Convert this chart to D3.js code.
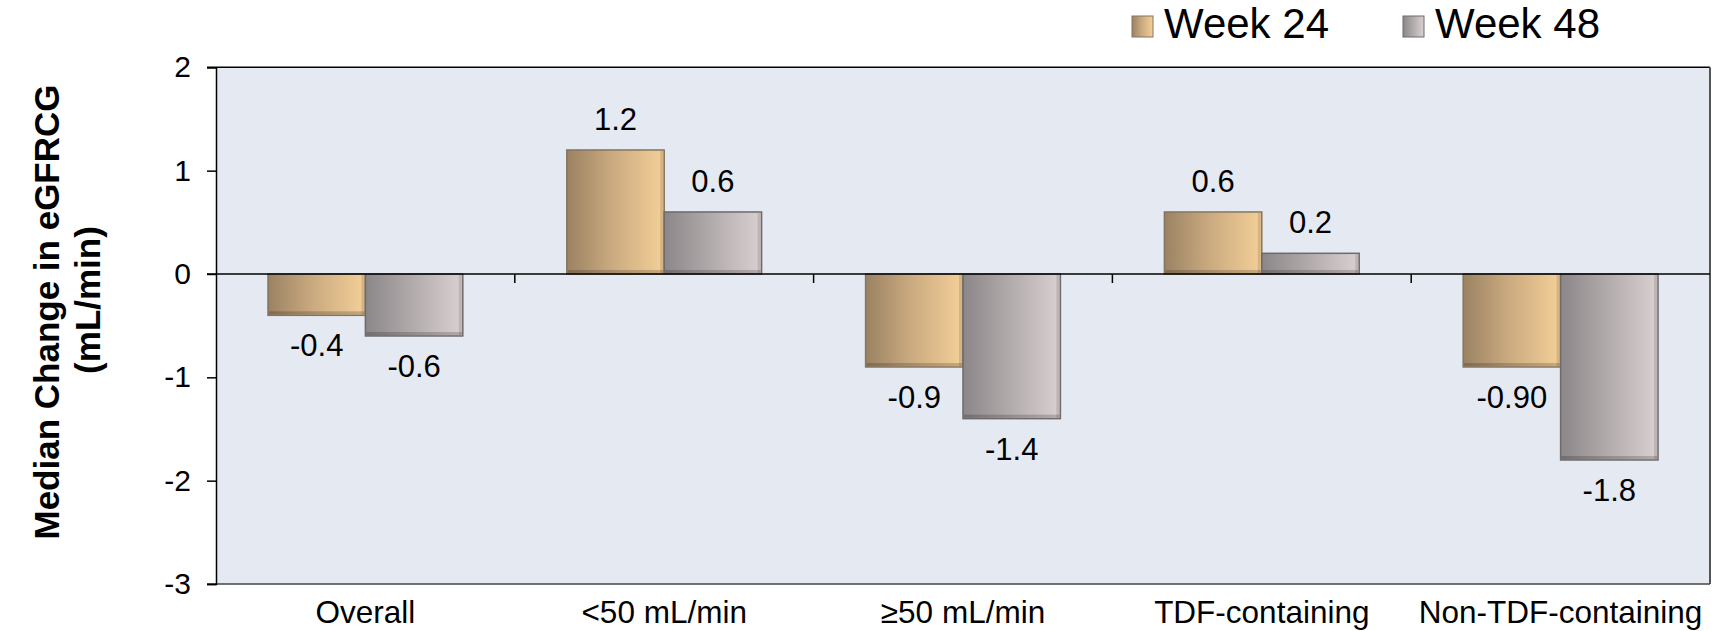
<!DOCTYPE html>
<html>
<head>
<meta charset="utf-8">
<script src="https://cdn.jsdelivr.net/npm/d3@7/dist/d3.min.js"></script>
<style>
  html, body { margin: 0; padding: 0; background: #ffffff; }
  svg { display: block; font-family: "Liberation Sans", Arial, sans-serif; }
</style>
</head>
<body>
<svg id="chart" width="1717" height="631"></svg>
<script>
// ---- Data ----
const categories = ["Overall", "<50 mL/min", "\u226550 mL/min", "TDF-containing", "Non-TDF-containing"];
const seriesNames = ["Week 24", "Week 48"];
const week24 = [-0.4, 1.2, -0.9, 0.6, -0.9];
const week48 = [-0.6, 0.6, -1.4, 0.2, -1.8];
const week24Labels = ["-0.4", "1.2", "-0.9", "0.6", "-0.90"];
const week48Labels = ["-0.6", "0.6", "-1.4", "0.2", "-1.8"];
const yTicks = [2, 1, 0, -1, -2, -3];
const yTitle = ["Median Change in eGFRCG", "(mL/min)"];

const svg = d3.select("#chart");
const plot = { left: 216, right: 1710, top: 67.3, bottom: 584 };

// gradients
const defs = svg.append("defs");
function hGrad(id, stops) {
  const g = defs.append("linearGradient").attr("id", id)
    .attr("x1", "0%").attr("x2", "100%").attr("y1", "0%").attr("y2", "0%");
  stops.forEach(s => g.append("stop").attr("offset", s[0]).attr("stop-color", s[1]));
}
hGrad("gTan", [["0%", "#9a8262"], ["45%", "#c9a97f"], ["100%", "#f4cf98"]]);
hGrad("gGray", [["0%", "#8b8688"], ["50%", "#b3acad"], ["100%", "#dad0d1"]]);

const fills = { "Week 24": "url(#gTan)", "Week 48": "url(#gGray)" };
const strokes = { "Week 24": "#857560", "Week 48": "#6e6a6a" };

// scales
const x = d3.scaleBand().domain(categories).range([plot.left, plot.right]).padding(0);
const bw = x.bandwidth();
const xSub = d3.scaleBand().domain(seriesNames).range([bw * 0.174, bw * 0.826]).padding(0);
const y = d3.scaleLinear().domain([-3, 2]).range([plot.bottom, plot.top]);

// plot background
svg.append("rect")
  .attr("x", plot.left).attr("y", plot.top)
  .attr("width", plot.right - plot.left).attr("height", plot.bottom - plot.top)
  .attr("fill", "#e5eaf2");

// frame lines
svg.append("line").attr("x1", plot.left - 9).attr("x2", plot.right).attr("y1", plot.top).attr("y2", plot.top)
  .attr("stroke", "#000").attr("stroke-width", 1.5);
svg.append("line").attr("x1", plot.right).attr("x2", plot.right).attr("y1", plot.top).attr("y2", plot.bottom)
  .attr("stroke", "#555").attr("stroke-width", 2);
svg.append("line").attr("x1", plot.left - 9).attr("x2", plot.right).attr("y1", plot.bottom).attr("y2", plot.bottom)
  .attr("stroke", "#444").attr("stroke-width", 1.5);

// y axis
const yAxis = d3.axisLeft(y).tickValues(yTicks).tickFormat(d => String(d)).tickSize(9).tickPadding(16);
const yG = svg.append("g").attr("transform", `translate(${plot.left},0)`).call(yAxis);
yG.select(".domain").attr("stroke", "#000").attr("stroke-width", 1.5);
yG.selectAll(".tick line").attr("stroke", "#000").attr("stroke-width", 1.5);
yG.selectAll(".tick text").attr("font-size", 30).attr("fill", "#000")
  .attr("font-family", "'Liberation Sans', Arial, sans-serif");

// bars
const rows = [];
categories.forEach((c, i) => {
  rows.push({ cat: c, s: "Week 24", v: week24[i], label: week24Labels[i] });
  rows.push({ cat: c, s: "Week 48", v: week48[i], label: week48Labels[i] });
});

const barG = svg.append("g");
barG.selectAll("rect.bar").data(rows).join("rect")
  .attr("class", "bar")
  .attr("x", d => x(d.cat) + xSub(d.s))
  .attr("y", d => Math.min(y(d.v), y(0)))
  .attr("width", xSub.bandwidth())
  .attr("height", d => Math.abs(y(d.v) - y(0)))
  .attr("fill", d => fills[d.s])
  .attr("stroke", d => strokes[d.s])
  .attr("stroke-width", 1.5);

// bevel edges
barG.selectAll("rect.bevelB").data(rows).join("rect")
  .attr("class", "bevelB")
  .attr("x", d => x(d.cat) + xSub(d.s) + 1)
  .attr("y", d => Math.max(y(d.v), y(0)) - 4)
  .attr("width", xSub.bandwidth() - 2)
  .attr("height", 3)
  .attr("fill", "#000").attr("opacity", 0.18);
barG.selectAll("rect.bevelR").data(rows).join("rect")
  .attr("class", "bevelR")
  .attr("x", d => x(d.cat) + xSub(d.s) + xSub.bandwidth() - 4)
  .attr("y", d => Math.min(y(d.v), y(0)) + 1)
  .attr("width", 3)
  .attr("height", d => Math.max(0, Math.abs(y(d.v) - y(0)) - 2))
  .attr("fill", "#000").attr("opacity", 0.12);

// zero axis line with category ticks
svg.append("line").attr("x1", plot.left - 9).attr("x2", plot.right).attr("y1", y(0)).attr("y2", y(0))
  .attr("stroke", "#000").attr("stroke-width", 1.5);
svg.append("g").selectAll("line").data(categories.slice(1)).join("line")
  .attr("x1", d => x(d)).attr("x2", d => x(d))
  .attr("y1", y(0)).attr("y2", y(0) + 9)
  .attr("stroke", "#000").attr("stroke-width", 1.5);

// value labels
svg.append("g").selectAll("text").data(rows).join("text")
  .attr("x", d => x(d.cat) + xSub(d.s) + xSub.bandwidth() / 2)
  .attr("y", d => d.v >= 0 ? y(d.v) - 20 : y(d.v) + 41)
  .attr("text-anchor", "middle")
  .attr("font-size", 31).attr("fill", "#000")
  .text(d => d.label);

// category labels
svg.append("g").selectAll("text").data(categories).join("text")
  .attr("x", d => x(d) + bw / 2)
  .attr("y", 623)
  .attr("text-anchor", "middle")
  .attr("font-size", 31.5).attr("fill", "#000")
  .text(d => d);

// y title
svg.append("text")
  .attr("transform", `translate(59,312) rotate(-90)`)
  .attr("text-anchor", "middle")
  .attr("font-size", 35).attr("font-weight", "bold").attr("fill", "#000")
  .text(yTitle[0]);
svg.append("text")
  .attr("transform", `translate(100,300) rotate(-90)`)
  .attr("text-anchor", "middle")
  .attr("font-size", 35).attr("font-weight", "bold").attr("fill", "#000")
  .text(yTitle[1]);

// legend
const legX = [1132, 1403];
const leg = svg.append("g").selectAll("g").data(seriesNames).join("g")
  .attr("transform", (d, i) => `translate(${legX[i]},0)`);
leg.append("rect").attr("x", 0).attr("y", 16).attr("width", 21).attr("height", 21)
  .attr("fill", d => fills[d]).attr("stroke", d => strokes[d]).attr("stroke-width", 1);
leg.append("text").attr("x", 32).attr("y", 38).attr("font-size", 42).attr("fill", "#000").text(d => d);
</script>
</body>
</html>
